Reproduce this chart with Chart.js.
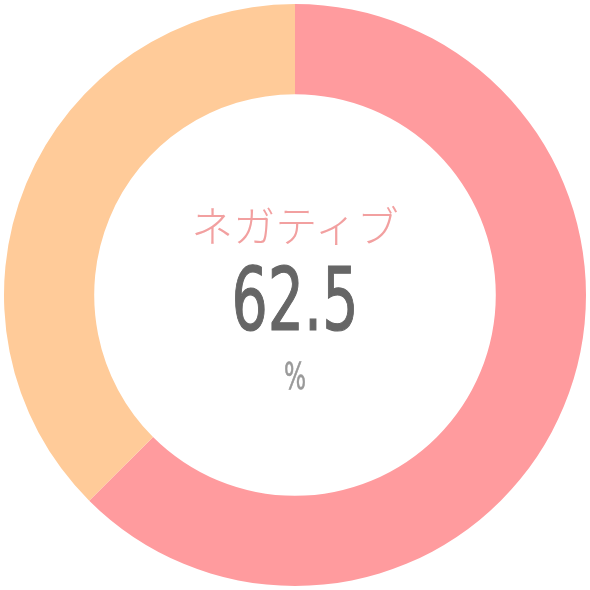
<!DOCTYPE html>
<html>
<head>
<meta charset="utf-8">
<script src="https://cdn.jsdelivr.net/npm/chart.js@4.4.1/dist/chart.umd.min.js"></script>
<style>
  html, body { margin: 0; padding: 0; background: #fff; }
  #wrap { position: relative; width: 590px; height: 590px; }
  #center { position: absolute; left: 0; top: 0; width: 590px; height: 590px; pointer-events: none; }
  #center div { position: absolute; left: 0; width: 590px; text-align: center; }
  #label { top: 199px; font-family: "Noto Sans CJK JP"; font-weight: 300; font-size: 42px; line-height: 50px; color: #f2a0a0; }
  #value { top: 252px; font-family: "DejaVu Sans Condensed", "DejaVu Sans"; font-size: 88px; line-height: 96px; color: #666; transform: scaleX(0.72); -webkit-text-stroke: 1.2px #666; }
  #unit { top: 354px; font-family: "DejaVu Sans Condensed", "DejaVu Sans"; font-size: 38px; line-height: 44px; color: #999; transform: scaleX(0.68); -webkit-text-stroke: 0.6px #999; }
</style>
</head>
<body>
<div id="wrap">
  <canvas id="chart"></canvas>
  <div id="center">
    <div id="label"></div>
    <div id="value"></div>
    <div id="unit"></div>
  </div>
</div>
<script>
// ネガティブ / ポジティブ の割合
const labels = ['ネガティブ', 'ポジティブ'];
const values = [62.5, 37.5];
const colors = ['#ff9b9e', '#ffcb99'];

document.getElementById('label').textContent = labels[0];
document.getElementById('value').textContent = values[0];
document.getElementById('unit').textContent = '%';

const ctx = document.getElementById('chart');
new Chart(ctx, {
    type: 'doughnut',
    data: {
        labels: labels,
        datasets: [{
            data: values,
            backgroundColor: colors,
            borderWidth: 0
        }]
    },
    options: {
        responsive: true,
        maintainAspectRatio: false,
        animation: false,
        cutout: '69%',
        layout: { padding: 4 },
        plugins: {
            legend: { display: false },
            tooltip: { enabled: false }
        }
    }
});
</script>
</body>
</html>
